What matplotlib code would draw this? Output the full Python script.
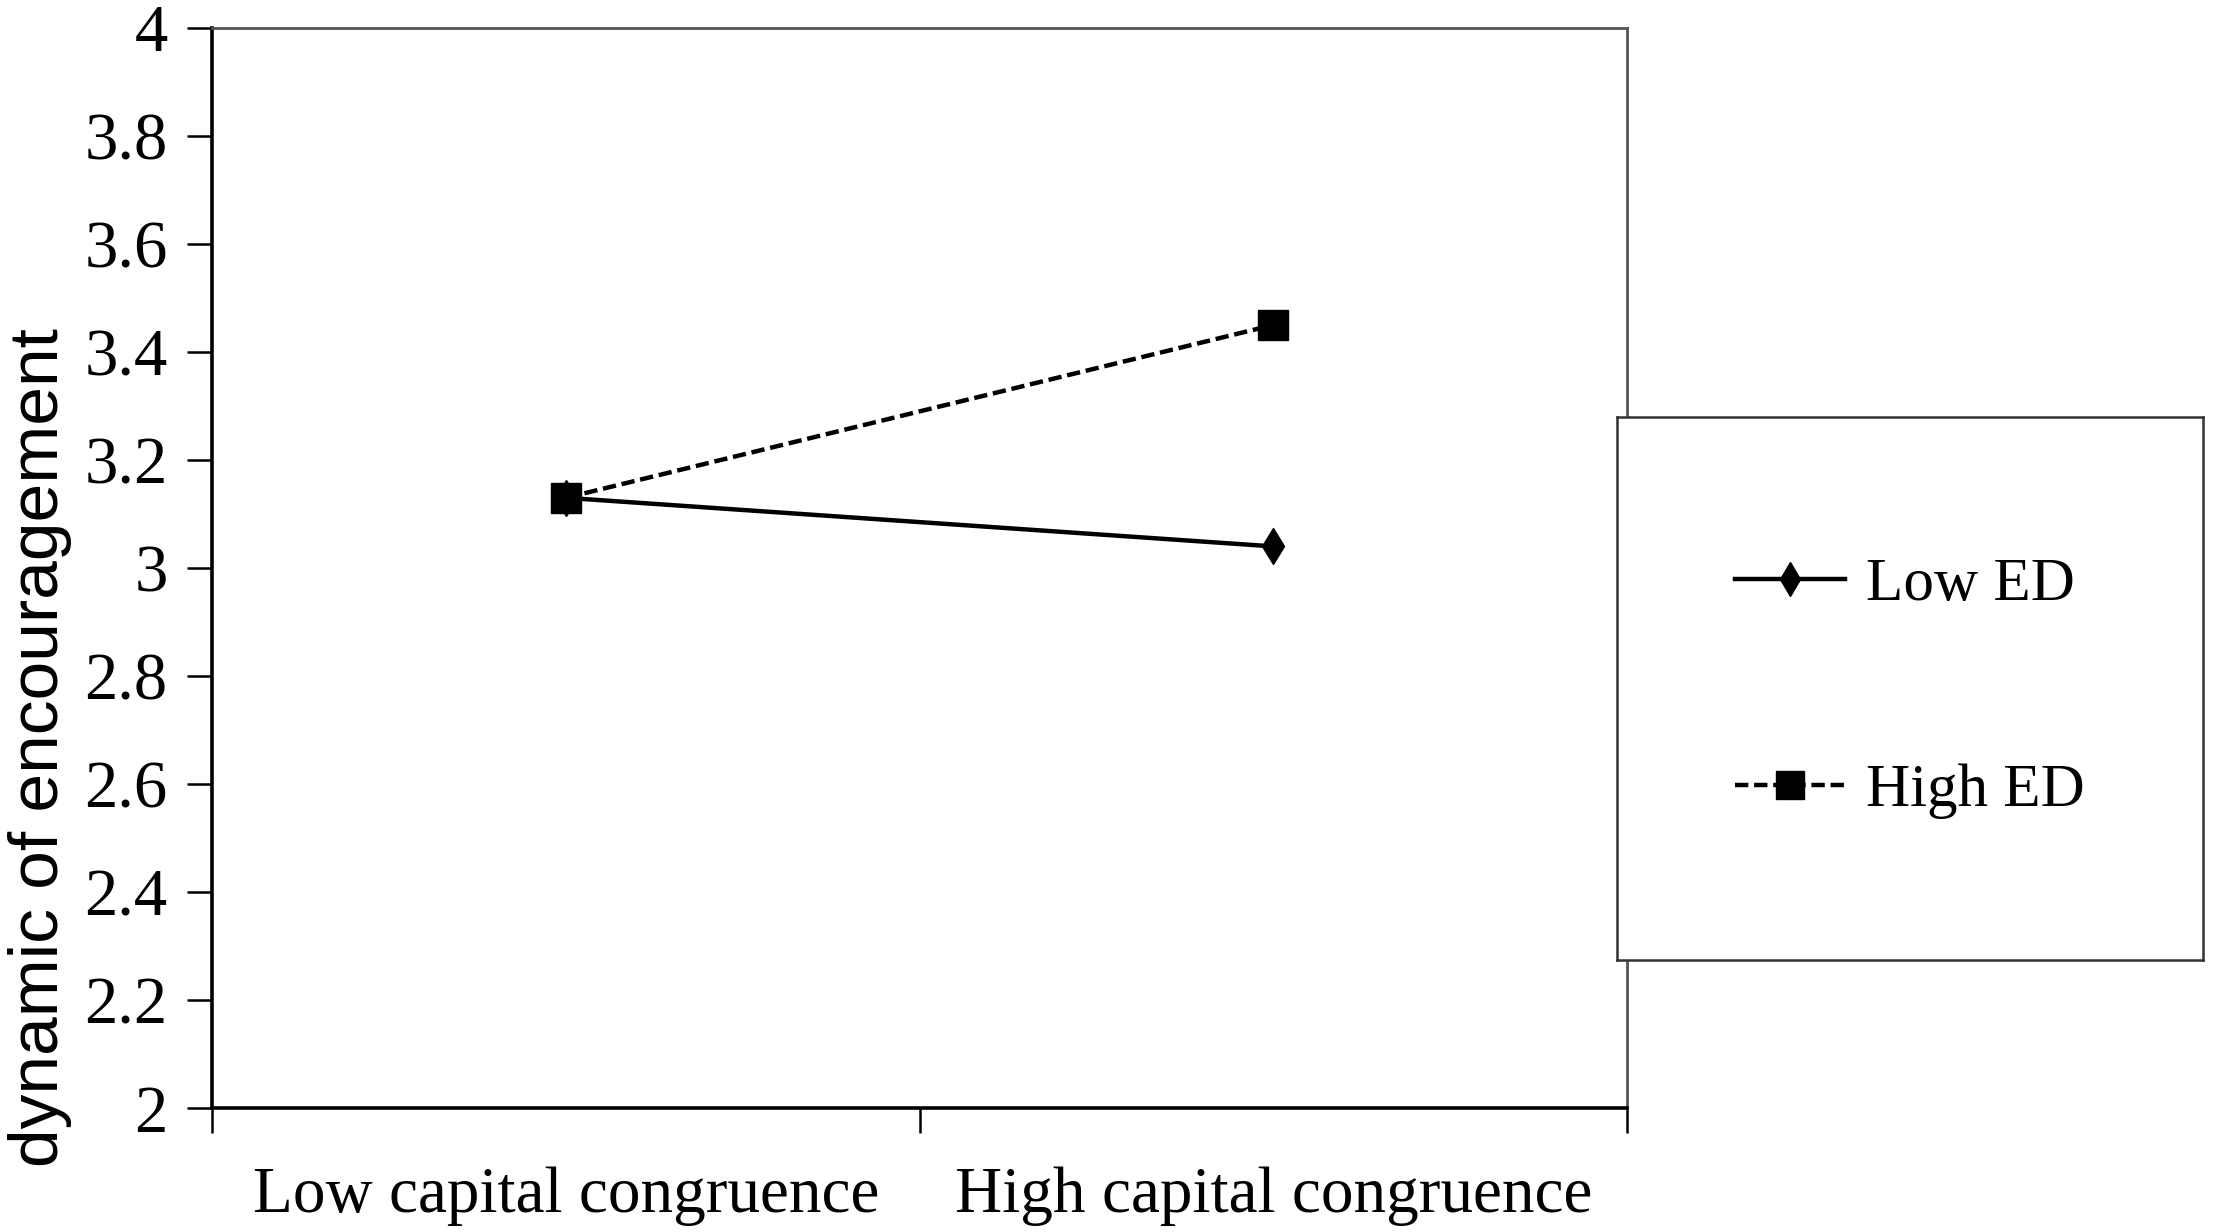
import matplotlib
matplotlib.use("Agg")
import matplotlib.pyplot as plt

# data
categories = ["Low capital congruence", "High capital congruence"]
low_ed = [3.13, 3.04]
high_ed = [3.13, 3.45]
y_ticks = [2, 2.2, 2.4, 2.6, 2.8, 3, 3.2, 3.4, 3.6, 3.8, 4]

fig = plt.figure(figsize=(22.14, 12.32), dpi=100)
ax = fig.add_axes([0.0958, 0.1006, 0.6391, 0.8767])

xpos = [0.5, 1.5]
ax.plot(xpos, low_ed, color="black", lw=3.2, marker="d", ms=18, mew=1, label="Low ED")
ax.plot(xpos, high_ed, color="black", lw=3.2, ls=(0, (3, 1.3)), marker="s", ms=21, label="High ED")

ax.set_xlim(0, 2)
ax.set_ylim(2, 4)
ax.set_yticks(y_ticks)
ax.set_yticklabels(["%g" % v for v in y_ticks], family="Liberation Serif", fontsize=48)
ax.set_xticks([0, 1, 2])
ax.set_xticklabels([])
ax.set_xticks(xpos, minor=True)
ax.set_xticklabels(categories, minor=True, family="Liberation Serif", fontsize=47)
ax.tick_params(axis="x", which="minor", length=0, pad=42)
ax.tick_params(axis="x", which="major", length=18, width=1.8, direction="out")
ax.tick_params(axis="y", length=18, width=1.8, direction="out", pad=14)

for s in ["left", "bottom"]:
    ax.spines[s].set_linewidth(2.6)
    ax.spines[s].set_color("black")
for s in ["top", "right"]:
    ax.spines[s].set_linewidth(2)
    ax.spines[s].set_color("#555555")

fig.text(0.018, 1 - 748 / 1232, "dynamic of encouragement", rotation=90,
         ha="center", va="center", family="Liberation Sans", fontsize=50)

# legend box outside plot
lax = fig.add_axes([0.7304, 0.221, 0.2646, 0.4407])
lax.set_xticks([])
lax.set_yticks([])
for s in lax.spines.values():
    s.set_linewidth(1.8)
    s.set_color("#333333")
h, l = ax.get_legend_handles_labels()
lax.legend(h, l, loc="center", frameon=False, prop={"family": "Liberation Serif", "size": 44},
           handlelength=1.8, labelspacing=2.45, handletextpad=0.35, markerscale=0.95)

fig.savefig("out.png", dpi=100)
